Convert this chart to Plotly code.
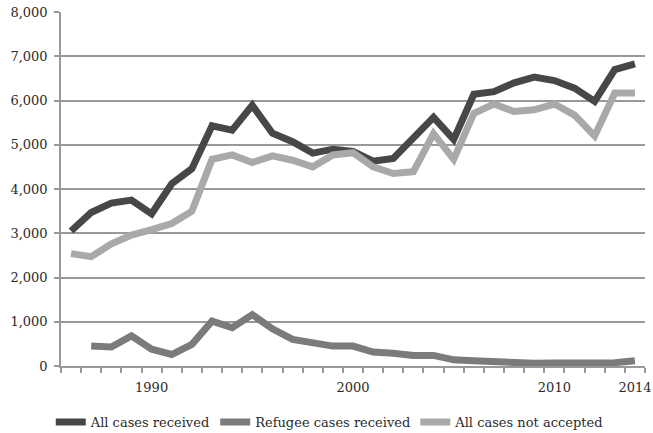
import plotly.graph_objects as go

years = list(range(1986, 2015))
all_received = [3050, 3470, 3680, 3750, 3440, 4120, 4460, 5430, 5330, 5890, 5260, 5070, 4810,
                4900, 4850, 4630, 4690, 5180, 5620, 5120, 6140, 6200, 6400, 6530, 6450, 6280,
                5980, 6700, 6830]
refugee_received = [None, 450, 430, 680, 380, 260, 490, 1015, 865, 1160, 840, 600, 530,
                    450, 450, 315, 290, 240, 240, 140, 120, 90, 60, 60, 70, 70, 60, 75, 120]
not_accepted = [2540, 2470, 2760, 2960, 3080, 3220, 3500, 4670, 4770, 4600, 4750, 4650, 4500,
                4770, 4820, 4500, 4350, 4390, 5250, 4670, 5710, 5920, 5750, 5790, 5920, 5670,
                5200, 6170, 6170]
x_tick_labels = [1990, 2000, 2010, 2014]
y_ticks = list(range(0, 8001, 1000))

font_family = "DejaVu Serif, Liberation Serif, serif"
text_color = "#2b2b2b"

fig = go.Figure()
fig.add_trace(go.Scatter(x=years, y=all_received, mode="lines", name="All cases received",
                         line=dict(color="#474747", width=7)))
fig.add_trace(go.Scatter(x=years, y=refugee_received, mode="lines", name="Refugee cases received",
                         line=dict(color="#7b7b7b", width=7)))
fig.add_trace(go.Scatter(x=years, y=not_accepted, mode="lines", name="All cases not accepted",
                         line=dict(color="#a9a9a9", width=7)))

fig.update_layout(
    width=653, height=433,
    margin=dict(l=61, r=8, t=12, b=67, autoexpand=False),
    plot_bgcolor="white", paper_bgcolor="white",
    font=dict(family=font_family, size=13, color=text_color),
    showlegend=True,
    legend=dict(orientation="h", xref="container", yref="container",
                x=0.505, xanchor="center", y=0.025, yanchor="middle",
                font=dict(size=13, color=text_color), itemwidth=30, tracegroupgap=0),
)
fig.update_xaxes(
    range=[1985.5, 2014.5],
    tickmode="array", tickvals=x_tick_labels, ticktext=[str(v) for v in x_tick_labels],
    ticks="", showgrid=False, zeroline=False,
    showline=True, linecolor="#999999", linewidth=1.5,
    minor=dict(tickmode="linear", tick0=1985.5, dtick=1, ticks="outside", ticklen=5,
               tickcolor="#999999", tickwidth=1.5, showgrid=False),
    tickfont=dict(size=13, color=text_color),
    ticklabelstandoff=9,
    automargin=False,
)
fig.update_yaxes(
    range=[0, 8000],
    tickmode="array", tickvals=y_ticks,
    tickformat=",d",
    ticks="outside", ticklen=5, tickcolor="#999999", tickwidth=1.5,
    showgrid=True, gridcolor="#999999", gridwidth=1.5,
    zeroline=False, showline=True, linecolor="#999999", linewidth=1.5,
    tickfont=dict(size=13, color=text_color),
    ticklabelstandoff=4,
    automargin=False,
)

fig.write_html("out.html", config={"displayModeBar": False},
               post_script="document.body.style.margin='0px';document.body.style.overflow='hidden';")
